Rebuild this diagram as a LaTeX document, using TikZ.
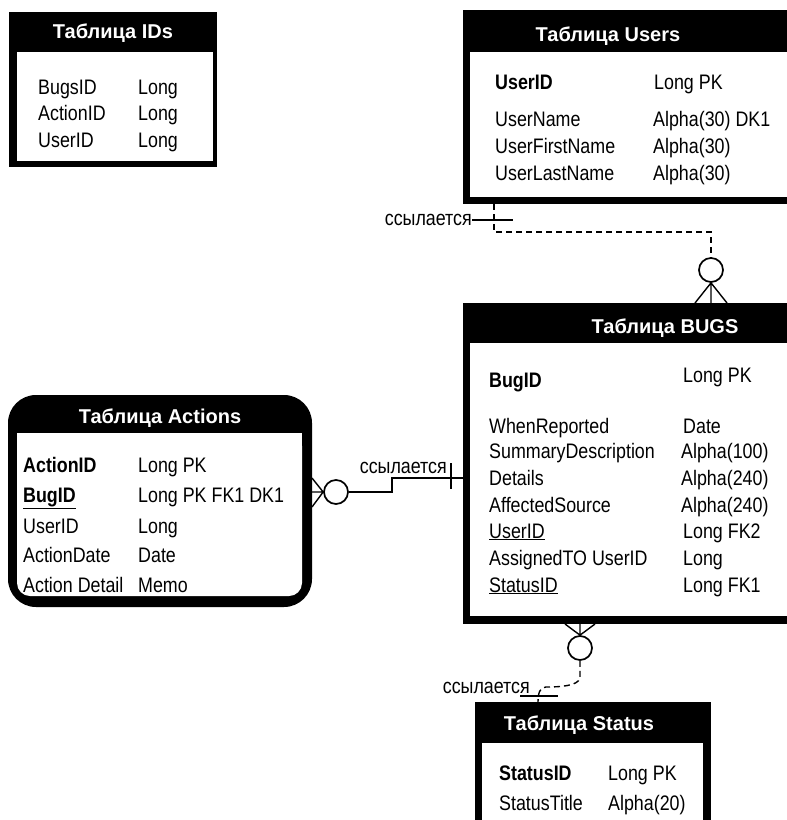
\documentclass[tikz,border=0pt]{standalone}
\usepackage{fontspec}
\newfontfamily\bodyf[FakeStretch=0.85]{Liberation Sans}
\newfontfamily\titlef{Liberation Sans}
\begin{document}
\begin{tikzpicture}[x=1pt,y=-1pt,
  body/.style={font=\bodyf\fontsize{21}{21}\selectfont, anchor=base west, inner sep=0pt},
  bbody/.style={body, font=\bodyf\bfseries\fontsize{21}{21}\selectfont},
  ttl/.style={font=\titlef\bfseries\fontsize{20}{20}\selectfont, text=white, anchor=base, inner sep=0pt},
  lbl/.style={body, anchor=base east},
  conn/.style={line width=1.4pt},
  dconn/.style={conn, dash pattern=on 6pt off 4pt},
  zero/.style={circle, draw, line width=1.7pt, minimum size=24pt, inner sep=0pt, fill=white}
]
\useasboundingbox (0,0) rectangle (787,820);
\clip (0,0) rectangle (787,820);

% ---------- Table IDs ----------
\fill (9,12) rectangle (217,167);
\fill[white] (17,52) rectangle (213,161);
\node[ttl] (idsT) at (113,38) {Таблица IDs};
\node[body] (ids1a) at (38,94) {BugsID};   \node[body] (ids1b) at (138,94) {Long};
\node[body] (ids2a) at (38,120) {ActionID}; \node[body] (ids2b) at (138,120) {Long};
\node[body] (ids3a) at (38,147) {UserID};   \node[body] (ids3b) at (138,147) {Long};

% ---------- Table Users ----------
\fill (463,10) rectangle (800,204);
\fill[white] (470,52) rectangle (800,197);
\node[ttl] (usT) at (608,41) {Таблица Users};
\node[bbody] (us1a) at (495,89) {UserID};        \node[body] (us1b) at (654,89) {Long PK};
\node[body] (us2a) at (495,126) {UserName};      \node[body] (us2b) at (653,126) {Alpha(30) DK1};
\node[body] (us3a) at (495,153) {UserFirstName}; \node[body] (us3b) at (653,153) {Alpha(30)};
\node[body] (us4a) at (495,180) {UserLastName};  \node[body] (us4b) at (653,180) {Alpha(30)};

% ---------- Table BUGS ----------
\fill (463,303) rectangle (800,624);
\fill[white] (470,343) rectangle (800,616);
\node[ttl] (bgT) at (665,333) {Таблица BUGS};
\node[bbody] (bg1a) at (489,387) {BugID};              \node[body] (bg1b) at (683,382) {Long PK};
\node[body] (bg2a) at (489,433) {WhenReported};        \node[body] (bg2b) at (683,433) {Date};
\node[body] (bg3a) at (489,458) {SummaryDescription};  \node[body] (bg3b) at (681,458) {Alpha(100)};
\node[body] (bg4a) at (489,485) {Details};             \node[body] (bg4b) at (681,485) {Alpha(240)};
\node[body] (bg5a) at (489,512) {AffectedSource};      \node[body] (bg5b) at (681,512) {Alpha(240)};
\node[body] (bg6a) at (489,538) {\underline{UserID}};  \node[body] (bg6b) at (683,538) {Long FK2};
\node[body] (bg7a) at (489,565) {AssignedTO UserID};   \node[body] (bg7b) at (683,565) {Long};
\node[body] (bg8a) at (489,592) {\underline{StatusID}};\node[body] (bg8b) at (683,592) {Long FK1};

% ---------- Table Actions ----------
\fill[rounded corners=28pt] (8,395) rectangle (312,607);
\fill[white, rounded corners=13pt] (17,433) rectangle (302,596);
\fill[white] (17,433) rectangle (302,470);
\node[ttl] (acT) at (160,423) {Таблица Actions};
\node[bbody] (ac1a) at (23,472) {ActionID};            \node[body] (ac1b) at (138,472) {Long PK};
\node[bbody] (ac2a) at (23,502) {\underline{BugID}};   \node[body] (ac2b) at (138,502) {Long PK FK1 DK1};
\node[body] (ac3a) at (23,533) {UserID};               \node[body] (ac3b) at (138,533) {Long};
\node[body] (ac4a) at (23,562) {ActionDate};           \node[body] (ac4b) at (138,562) {Date};
\node[body] (ac5a) at (23,592) {Action Detail};        \node[body] (ac5b) at (138,592) {Memo};

% ---------- Table Status ----------
\fill (475,702) rectangle (711,830);
\fill[white] (482,743) rectangle (703,830);
\node[ttl] (stT) at (579,730) {Таблица Status};
\node[bbody] (st1a) at (499,780) {StatusID};   \node[body] (st1b) at (608,780) {Long PK};
\node[body] (st2a) at (499,810) {StatusTitle}; \node[body] (st2b) at (608,810) {Alpha(20)};

% ---------- Users -> BUGS ----------
\coordinate (usB) at (494,204);
\coordinate (usJ) at (494,232);
\node[zero] (z1) at (711,270) {};
\draw[dconn] (usB) -- (usJ) -| (z1.north);
\coordinate (bgT1) at (695,303);
\coordinate (bgT2) at (711,303);
\coordinate (bgT3) at (727,303);
\draw[conn] (bgT1) -- (z1.south) -- (bgT3) (z1.south) -- (bgT2);
\node[lbl] (l1) at (472,225) {ссылается};
\coordinate (t1e) at (513,220);
\draw[conn] (l1.east |- t1e) -- (t1e);

% ---------- BUGS -> Actions ----------
\coordinate (bgL) at (463,478);
\coordinate (bgJ) at (392,478);
\node[zero] (z2) at (336,492) {};
\draw[conn] (bgL) -- (bgJ) |- (z2.east);
\coordinate (acR1) at (312,478);
\coordinate (acR2) at (312,492);
\coordinate (acR3) at (312,507);
\draw[conn] (acR1) -- (z2.west) -- (acR3) (z2.west) -- (acR2);
\coordinate (tk2a) at (451,463);
\coordinate (tk2b) at (451,489);
\draw[conn] (tk2a) -- (tk2b);
\node[lbl] (l2) at (447,473) {ссылается};

% ---------- BUGS -> Status ----------
\node[zero] (z3) at (580,648) {};
\coordinate (bgB1) at (565,624);
\coordinate (bgB2) at (580,624);
\coordinate (bgB3) at (595,624);
\draw[conn] (bgB1) -- (z3.north) -- (bgB3) (z3.north) -- (bgB2);
\coordinate (stTop) at (538,702);
\draw[dconn] (z3.south) -- (580,678) .. controls (578,686) and (560,687) .. (546,687) .. controls (540,687) and (538,693) .. (stTop);
\coordinate (tk3a) at (520,696);
\coordinate (tk3b) at (558,696);
\draw[conn] (tk3a) -- (tk3b);
\node[lbl] (l3) at (530,693) {ссылается};
\end{tikzpicture}
\end{document}
